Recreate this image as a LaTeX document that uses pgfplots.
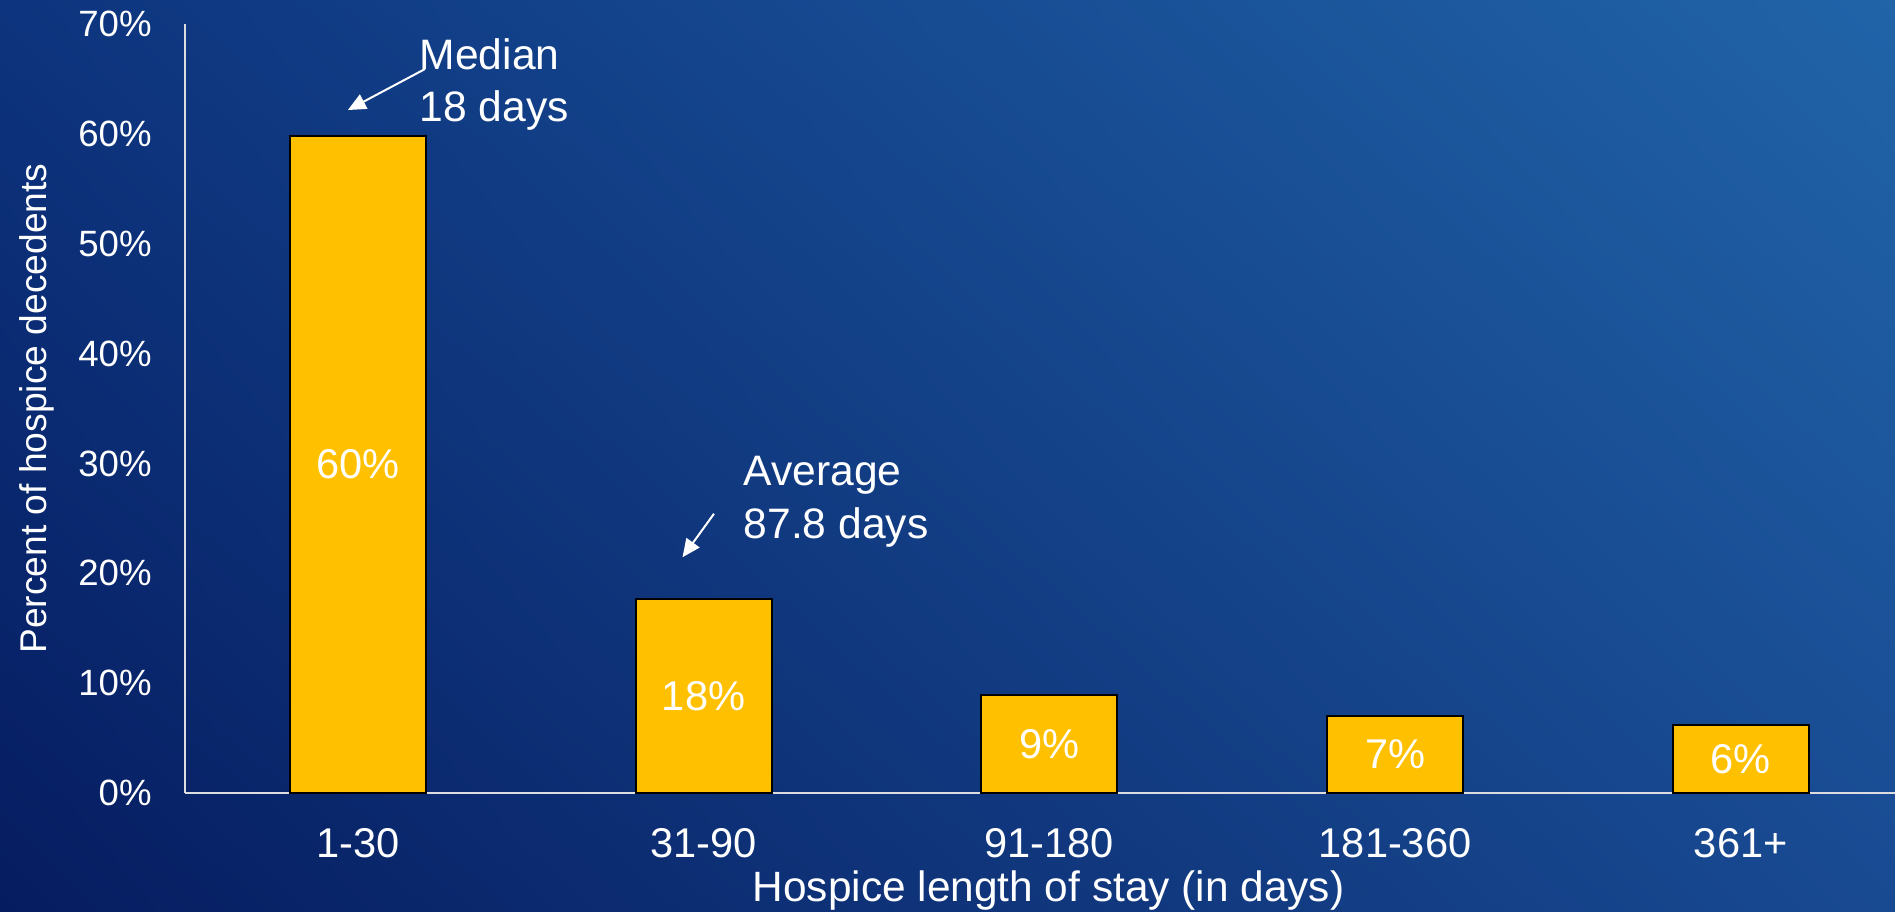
\documentclass[border=0pt]{standalone}
\usepackage{fontspec}
\setmainfont{Liberation Sans}
\usepackage{pgfplots}
\pgfplotsset{compat=1.18}
\usetikzlibrary{arrows.meta,shadings}
\definecolor{bgLL}{RGB}{6,28,96}
\definecolor{bgUL}{RGB}{13,52,126}
\definecolor{bgUR}{RGB}{33,100,168}
\definecolor{bgLR}{RGB}{24,74,146}
\definecolor{barYellow}{RGB}{255,192,0}
\definecolor{axisGray}{RGB}{220,220,225}
\begin{document}
\begin{tikzpicture}
\useasboundingbox (0,0) rectangle (947.5pt,455.5pt);
\shade[lower left=bgLL, upper left=bgUL, upper right=bgUR, lower right=bgLR] (0,0) rectangle (947.5pt,455.5pt);
\begin{axis}[
  at={(92.5pt,59pt)}, anchor=south west,
  scale only axis, width=855pt, height=384.5pt,
  xmin=-0.5, xmax=4.446, ymin=0, ymax=70,
  axis x line*=bottom, axis y line*=left,
  axis line style={draw=axisGray, line width=1pt},
  xtick={0,1,2,3,4},
  xticklabels={1-30,31-90,91-180,181-360,361+},
  ytick={0,10,20,30,40,50,60,70},
  yticklabels={0\%,10\%,20\%,30\%,40\%,50\%,60\%,70\%},
  major tick length=0pt,
  xticklabel style={font=\fontsize{20.8}{25}\selectfont, text=white, anchor=center, yshift=-25pt},
  yticklabel style={font=\fontsize{18.3}{22}\selectfont, text=white, anchor=east, inner sep=0pt, xshift=-16.5pt},
  xlabel={Hospice length of stay (in days)},
  xlabel style={font=\fontsize{21.2}{25}\selectfont, text=white, at={(axis description cs:0.505,-0.127)}, anchor=center},
  ylabel={Percent of hospice decedents},
  ylabel style={font=\fontsize{18.6}{22}\selectfont, text=white, at={(axis description cs:-0.0868,0.5)}, anchor=center},
  clip=false,
]
\addplot[ybar, bar width=0.393, fill=barYellow, draw=black, line width=1pt]
  coordinates {(0,59.8) (1,17.7) (2,8.9) (3,7.05) (4,6.2)};
\begin{scope}[every node/.style={font=\fontsize{20.8}{25}\selectfont, text=white}]
\node at (axis cs:0,29.9) {60\%};
\node at (axis cs:1,8.85) {18\%};
\node at (axis cs:2,4.45) {9\%};
\node at (axis cs:3,3.5) {7\%};
\node at (axis cs:4,3.1) {6\%};
\end{scope}
\node[font=\fontsize{21.3}{26.3}\selectfont, text=white, align=left, anchor=west, inner sep=0pt] at (axis cs:0.178,64.5) {Median\\18 days};
\node[font=\fontsize{21.3}{26.3}\selectfont, text=white, align=left, anchor=west, inner sep=0pt] at (axis cs:1.115,26.5) {Average\\87.8 days};
\draw[white, line width=1pt, -{Triangle[length=9pt,width=8pt]}] (axis cs:0.194,65.9) -- (axis cs:-0.029,62.17);
\draw[white, line width=1pt, -{Triangle[length=9pt,width=8pt]}] (axis cs:1.030,25.42) -- (axis cs:0.939,21.46);
\end{axis}
\end{tikzpicture}
\end{document}
